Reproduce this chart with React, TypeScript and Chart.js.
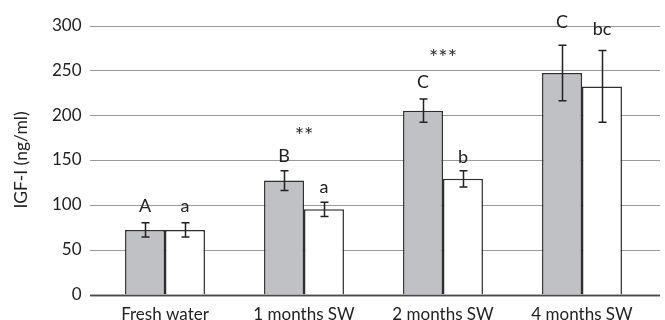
import React, { useEffect, useRef } from "react";
import { Chart, registerables } from "chart.js";

Chart.register(...registerables);

const categories = ["Fresh water", "1 months SW", "2 months SW", "4 months SW"];
const greyValues = [72, 127, 205, 247];
const greyErrors = [8, 11, 13, 31];
const whiteValues = [72, 95, 129, 232];
const whiteErrors = [8, 8, 9, 40];
const greyLetters = ["A", "B", "C", "C"];
const whiteLetters = ["a", "a", "b", "bc"];
const greyLetterY = [92, 148, 230, 297];
const whiteLetterY = [92, 113, 147, 289];
const sigMarks = ["", "**", "***", ""];
const sigY = [0, 183, 270, 0];
const yTicks = [0, 50, 100, 150, 200, 250, 300];

const FONT = "Lato, 'Noto Sans', sans-serif";

const gridPlugin = {
  id: "extGrid",
  beforeDatasetsDraw(chart: any) {
    const { ctx, chartArea, scales } = chart;
    const y = scales.y;
    const x0 = chartArea.left - 5.5;
    const x1 = chartArea.right + 8.5;
    ctx.save();
    yTicks.forEach((v) => {
      const py = Math.round(y.getPixelForValue(v)) + 0.5;
      ctx.beginPath();
      ctx.strokeStyle = v === 0 ? "#4a4a4a" : "#9a9a9a";
      ctx.lineWidth = v === 0 ? 1.6 : 1.2;
      ctx.moveTo(x0, py);
      ctx.lineTo(x1, py);
      ctx.stroke();
    });
    ctx.restore();
  },
  afterDatasetsDraw(chart: any) {
    const { ctx, chartArea, scales } = chart;
    const y = scales.y;
    const x = scales.x;
    ctx.save();
    const p0 = Math.round(y.getPixelForValue(0)) + 0.5;
    ctx.beginPath();
    ctx.strokeStyle = "#4a4a4a";
    ctx.lineWidth = 1.6;
    ctx.moveTo(chartArea.left - 5.5, p0);
    ctx.lineTo(chartArea.right + 8.5, p0);
    ctx.stroke();

    const errs = [greyErrors, whiteErrors];
    const vals = [greyValues, whiteValues];
    const letters = [greyLetters, whiteLetters];
    const letterY = [greyLetterY, whiteLetterY];
    ctx.strokeStyle = "#222";
    ctx.lineWidth = 1.5;
    ctx.fillStyle = "#222";
    ctx.font = `18px ${FONT}`;
    ctx.textAlign = "center";
    [0, 1].forEach((di) => {
      const meta = chart.getDatasetMeta(di);
      meta.data.forEach((el: any, i: number) => {
        const cx = Math.round(el.x) + 0.5;
        const top = y.getPixelForValue(vals[di][i] + errs[di][i]);
        const bot = y.getPixelForValue(vals[di][i] - errs[di][i]);
        ctx.beginPath();
        ctx.moveTo(cx, top);
        ctx.lineTo(cx, bot);
        ctx.moveTo(cx - 4, top);
        ctx.lineTo(cx + 4, top);
        ctx.moveTo(cx - 4, bot);
        ctx.lineTo(cx + 4, bot);
        ctx.stroke();
        ctx.textBaseline = "alphabetic";
        ctx.fillText(letters[di][i], el.x, y.getPixelForValue(letterY[di][i]));
      });
    });
    ctx.font = `22px ${FONT}`;
    ctx.fillStyle = "#333";
    ctx.textBaseline = "alphabetic";
    sigMarks.forEach((m, i) => {
      if (!m) return;
      const tm = ctx.measureText(m);
      const asc = tm.actualBoundingBoxAscent || 0;
      const desc = tm.actualBoundingBoxDescent || 0;
      const cy = y.getPixelForValue(sigY[i]);
      ctx.fillText(m, x.getPixelForValue(i), cy + (asc - desc) / 2);
    });
    ctx.restore();
  },
};

export default function App() {
  const ref = useRef<HTMLCanvasElement>(null);
  useEffect(() => {
    if (!ref.current) return;
    const chart = new Chart(ref.current, {
      type: "bar",
      data: {
        labels: categories,
        datasets: [
          {
            data: greyValues,
            backgroundColor: "#c0c1c5",
            borderColor: "#2e2e2e",
            borderWidth: 1.5,
            categoryPercentage: 0.575,
            barPercentage: 1,
          },
          {
            data: whiteValues,
            backgroundColor: "#ffffff",
            borderColor: "#2e2e2e",
            borderWidth: 1.5,
            categoryPercentage: 0.575,
            barPercentage: 1,
          },
        ],
      },
      options: {
        animation: false,
        responsive: false,
        maintainAspectRatio: false,
        layout: { padding: { top: 25.5, right: 13.5, left: 0, bottom: 0 } },
        plugins: { legend: { display: false }, tooltip: { enabled: false } },
        scales: {
          x: {
            grid: { display: false },
            border: { display: false },
            ticks: { color: "#222", font: { family: FONT, size: 17 }, padding: 2, maxRotation: 0 },
            afterFit(scale: any) {
              scale.height = 25.5;
            },
          },
          y: {
            min: 0,
            max: 300,
            grid: { display: false, drawTicks: false },
            border: { display: false },
            ticks: {
              stepSize: 50,
              color: "#222",
              font: { family: FONT, size: 17 },
              padding: 14,
            },
            title: {
              display: true,
              text: "IGF-I (ng/ml)",
              color: "#222",
              font: { family: FONT, size: 17.5 },
              padding: { top: 11, bottom: 0 },
            },
            afterFit(scale: any) {
              scale.width = 95.5;
            },
          },
        },
      },
      plugins: [gridPlugin],
    });
    return () => chart.destroy();
  }, []);
  return (
    <div style={{ position: "fixed", left: 0, top: 0, width: 665, height: 320, background: "#fff" }}>
      <canvas ref={ref} width={665} height={320} style={{ width: 665, height: 320 }} />
    </div>
  );
}
